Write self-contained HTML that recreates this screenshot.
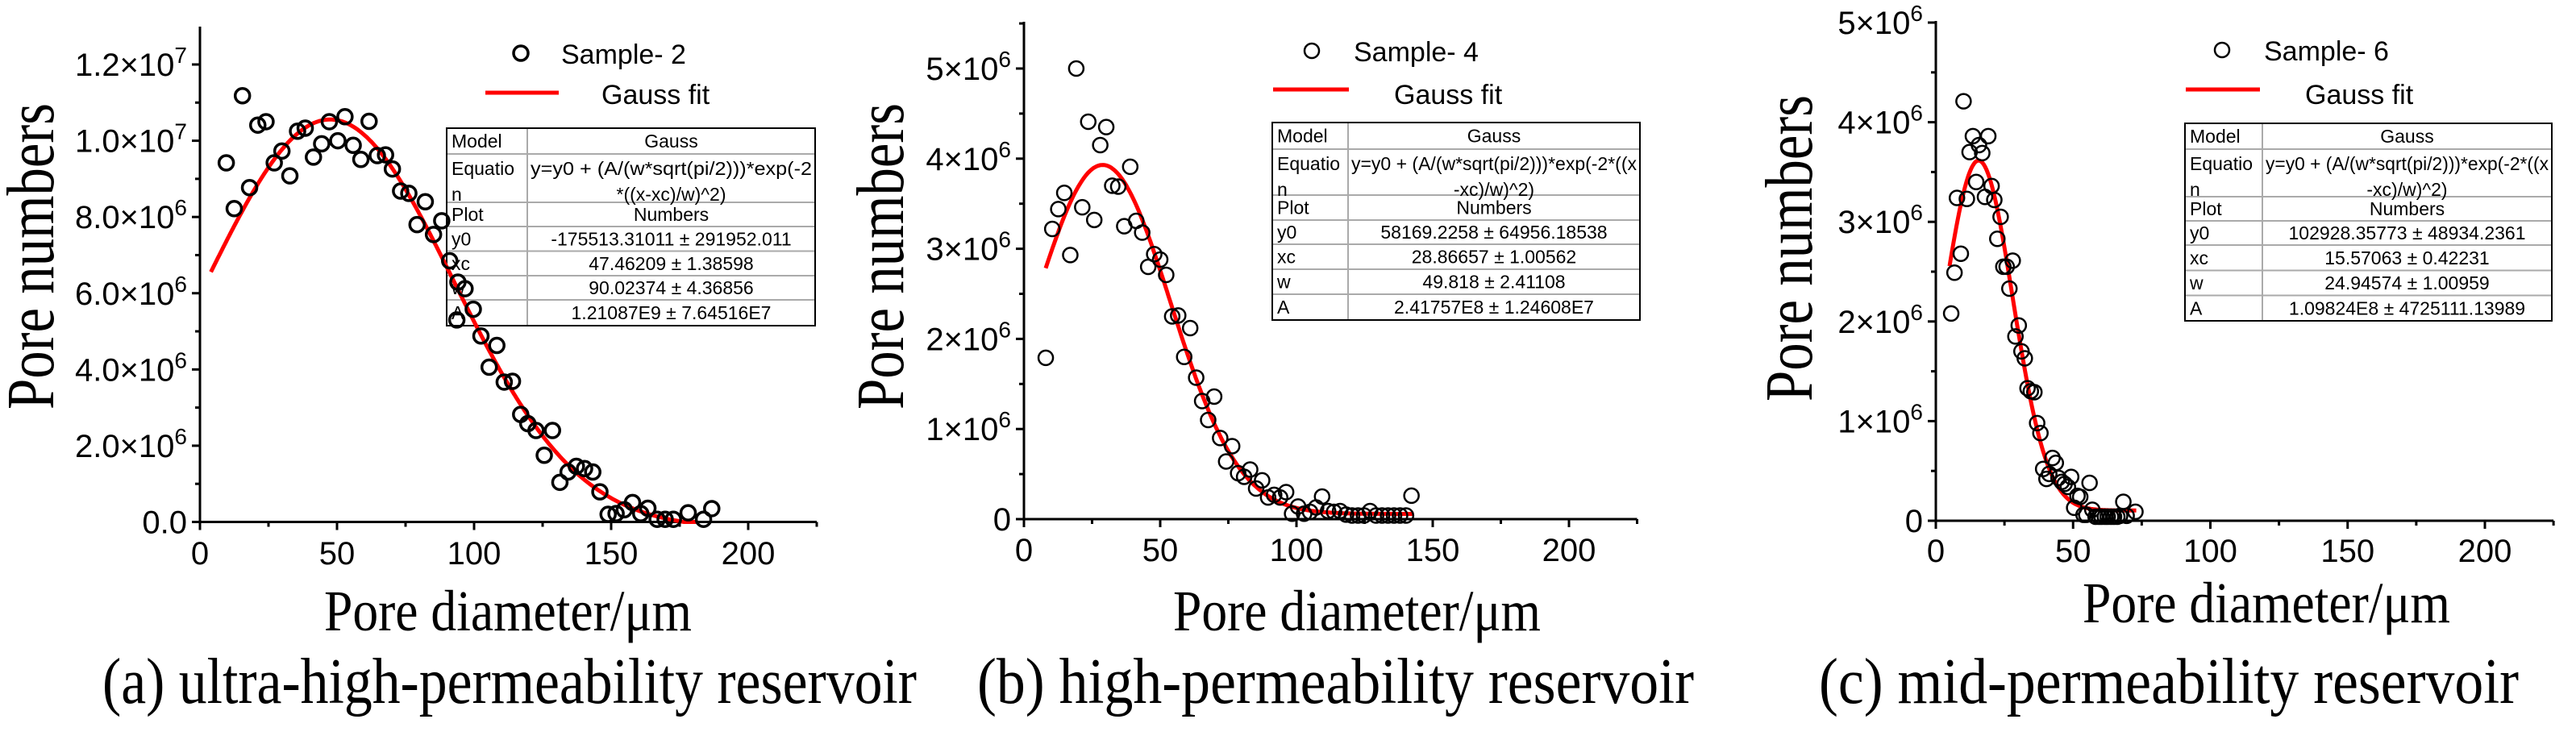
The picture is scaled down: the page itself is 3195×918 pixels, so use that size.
<!DOCTYPE html>
<html><head><meta charset="utf-8"><style>
html,body{margin:0;padding:0;background:#fff;}
svg{display:block;}
</style></head><body>
<svg id="fig" width="3195" height="918" viewBox="0 0 3195 918" xmlns="http://www.w3.org/2000/svg"></svg>
<script>
// ---- Data: panel (a) Sample-2 ----
const aX = [9.6,12.5,15.5,18.1,21.1,24.1,27.1,29.9,32.8,35.6,38.4,41.4,44.4,47.2,50.3,52.9,55.9,58.7,61.7,64.7,67.7,70.2,73.2,76.2,79.2,82.2,85.2,88.2,91.1,94.1,96.7,93.7,99.7,102.5,105.5,108.3,111,114,117,119.6,122.6,125.6,128.6,131.3,134.3,137.3,140.3,143.3,145.9,148.9,151.8,154.8,157.8,160.8,163.4,166.8,169.7,172.7,178.1,183.7,186.7];
const aY = [9.42,8.22,11.18,8.77,10.41,10.5,9.42,9.73,9.08,10.25,10.33,9.57,9.92,10.5,10.0,10.63,9.88,9.51,10.51,9.61,9.63,9.26,8.68,8.62,7.8,8.4,7.54,7.9,6.85,6.29,6.12,5.3,5.58,4.88,4.06,4.63,3.67,3.69,2.82,2.58,2.4,1.75,2.4,1.04,1.31,1.46,1.4,1.31,0.79,0.2,0.22,0.32,0.51,0.22,0.36,0.07,0.07,0.07,0.24,0.07,0.35];
const aFit = [-175513.31011, 47.46209, 90.02374, 1.21087e9]; // y0, xc, w, A
const aTicksY = [0,2,4,6,8,10,12];
const aTickLabels = [["0.0",""],["2.0×10","6"],["4.0×10","6"],["6.0×10","6"],["8.0×10","6"],["1.0×10","7"],["1.2×10","7"]];
// ---- Data: panel (b) Sample-4 ----
const bX = [8,10.4,12.6,14.8,17,19.2,21.4,23.6,25.8,28,30.2,32.4,34.6,36.8,39,41.2,43.4,45.6,47.8,50,52.2,54.4,56.6,58.8,61,63.2,65.4,67.6,69.8,72,74.2,76.4,78.6,80.8,83,85.2,87.4,89.6,91.8,94,96.2,98.4,100.6,102.8,105,107.2,109.4,111.6,113.8,116,118.2,120.4,122.6,124.8,127,129.2,131.4,133.6,135.8,138,140.2,142.2];
const bY = [1.79,3.22,3.44,3.62,2.93,5.0,3.46,4.41,3.32,4.15,4.35,3.7,3.69,3.25,3.91,3.31,3.18,2.8,2.94,2.88,2.71,2.25,2.26,1.8,2.12,1.57,1.31,1.1,1.36,0.9,0.64,0.81,0.51,0.47,0.55,0.34,0.43,0.24,0.27,0.24,0.3,0.06,0.14,0.06,0.08,0.13,0.25,0.09,0.08,0.09,0.05,0.04,0.04,0.04,0.09,0.04,0.04,0.04,0.04,0.04,0.04,0.26];
const bFit = [58169.2258, 28.86657, 49.818, 2.41757e8];
const bTicksY = [0,1,2,3,4,5];
const bTickLabels = [["0",""],["1×10","6"],["2×10","6"],["3×10","6"],["4×10","6"],["5×10","6"]];
// ---- Data: panel (c) Sample-6 ----
const cX = [5.6,6.8,7.7,9.1,10.1,11.3,12.3,13.5,14.7,15.7,16.9,17.9,19.1,20.3,21.3,22.4,23.6,24.6,25.8,26.8,28,29,30.2,31.2,32.4,33.4,34.6,35.9,36.9,38.1,39.1,40.3,41.3,42.5,43.7,44.7,45.9,46.9,48.1,49.3,50.4,51.6,52.6,53.8,54.8,56,57,58.2,59.4,60.4,61.6,62.6,63.8,64.9,66.1,67.1,68.3,69.5,72.7];
const cY = [2.08,2.49,3.24,2.68,4.21,3.23,3.7,3.86,3.4,3.77,3.69,3.25,3.86,3.36,3.22,2.83,3.05,2.55,2.55,2.33,2.61,1.85,1.96,1.7,1.63,1.33,1.3,1.29,0.98,0.88,0.52,0.42,0.47,0.63,0.58,0.43,0.39,0.37,0.34,0.44,0.13,0.25,0.24,0.06,0.06,0.38,0.11,0.04,0.04,0.04,0.04,0.04,0.04,0.04,0.04,0.05,0.19,0.05,0.09];
const cFit = [102928.35773, 15.57063, 24.94574, 1.09824e8];
const cTicksY = [0,1,2,3,4,5];
const cTickLabels = [["0",""],["1×10","6"],["2×10","6"],["3×10","6"],["4×10","6"],["5×10","6"]];
const xTicks = [0,50,100,150,200];
const tableA = [["Model","Gauss"],["Equatio|n","y=y0 + (A/(w*sqrt(pi/2)))*exp(-2|*((x-xc)/w)^2)"],["Plot","Numbers"],["y0","-175513.31011 ± 291952.011"],["xc","47.46209 ± 1.38598"],["w","90.02374 ± 4.36856"],["A","1.21087E9 ± 7.64516E7"]];
const tableB = [["Model","Gauss"],["Equatio|n","y=y0 + (A/(w*sqrt(pi/2)))*exp(-2*((x|-xc)/w)^2)"],["Plot","Numbers"],["y0","58169.2258 ± 64956.18538"],["xc","28.86657 ± 1.00562"],["w","49.818 ± 2.41108"],["A","2.41757E8 ± 1.24608E7"]];
const tableC = [["Model","Gauss"],["Equatio|n","y=y0 + (A/(w*sqrt(pi/2)))*exp(-2*((x|-xc)/w)^2)"],["Plot","Numbers"],["y0","102928.35773 ± 48934.2361"],["xc","15.57063 ± 0.42231"],["w","24.94574 ± 1.00959"],["A","1.09824E8 ± 4725111.13989"]];

const NS = "http://www.w3.org/2000/svg";
const svg = document.getElementById("fig");
function el(tag, attrs, parent){ const e=document.createElementNS(NS,tag); for(const k in attrs) e.setAttribute(k,attrs[k]); (parent||svg).appendChild(e); return e; }

function panel(cfg){
  const g = el("g",{});
  
  
  const sx = v => cfg.x0 + (v/200)*(cfg.x200-cfg.x0);
  const sy = v => cfg.y0 - (v/cfg.ytop)*(cfg.y0-cfg.ytopPx);
  const yax = el("line",{x1:cfg.x0,y1:cfg.y0,x2:cfg.x0,y2:cfg.axTop,stroke:"#000","stroke-width":3},g);
  
  
  const xax = el("line",{x1:cfg.x0,y1:cfg.y0,x2:sx(225),y2:cfg.y0,stroke:"#000","stroke-width":3},g);
  
  
  for(let v=0; v<=225; v+=25){
    const major = v%50===0;
    el("line",{x1:sx(v),y1:cfg.y0,x2:sx(v),y2:cfg.y0+(major?10:6),stroke:"#000","stroke-width":3},g);
  }
  xTicks.forEach(v=>{
    const t = el("text",{x:sx(v),y:cfg.xLabY,"text-anchor":"middle","font-family":"Liberation Sans, sans-serif","font-size":40},g);
    t.textContent = v;
    
    
  });
  const ts = cfg.ticks;
  for(let i=0;i<ts.length;i++){
    el("line",{x1:cfg.x0-10,y1:sy(ts[i]),x2:cfg.x0,y2:sy(ts[i]),stroke:"#000","stroke-width":3},g);
    const mid = ts[i] + (ts[1]-ts[0])/2;
    if(sy(mid) > cfg.axTop) el("line",{x1:cfg.x0-6,y1:sy(mid),x2:cfg.x0,y2:sy(mid),stroke:"#000","stroke-width":3},g);
    const lab = cfg.labels[i];
    const t = el("text",{x:cfg.x0-16,y:sy(ts[i])+14,"text-anchor":"end","font-family":"Liberation Sans, sans-serif","font-size":40},g);
    
    
    const s1 = el("tspan",{},t); s1.textContent = lab[0];
    if(lab[1]){ const s2 = el("tspan",{dy:-16,"font-size":28},t); s2.textContent = lab[1]; }
  }
  const yt = el("text",{x:0,y:0,transform:`translate(${cfg.ytX},${cfg.ytY}) rotate(-90)`,"text-anchor":"middle","font-family":"Liberation Serif, serif","font-size":84,textLength:380,lengthAdjust:"spacingAndGlyphs"},g);
  yt.textContent = "Pore numbers";
  
  
  const xt = el("text",{x:cfg.xtX,y:cfg.xtY,"font-family":"Liberation Serif, serif","font-size":72,textLength:456,lengthAdjust:"spacingAndGlyphs"},g);
  xt.textContent = "Pore diameter/μm";
  
  
  const cap = el("text",{x:cfg.capX1,y:872,"font-family":"Liberation Serif, serif","font-size":80,textLength:cfg.capX2-cfg.capX1,lengthAdjust:"spacingAndGlyphs"},g);
  cap.textContent = cfg.caption;
  
  
  const tb = cfg.tb, tg = el("g",{},g);
  
  
  for(let i=1;i<tb.rows.length-1;i++) el("line",{x1:tb.x1,y1:tb.rows[i],x2:tb.x2,y2:tb.rows[i],stroke:"#aaa","stroke-width":2},tg);
  el("line",{x1:tb.xd,y1:tb.rows[0],x2:tb.xd,y2:tb.rows[tb.rows.length-1],stroke:"#aaa","stroke-width":2},tg);
  el("rect",{x:tb.x1,y:tb.rows[0],width:tb.x2-tb.x1,height:tb.rows[tb.rows.length-1]-tb.rows[0],fill:"none",stroke:"#000","stroke-width":2},tg);
  cfg.table.forEach((r,i)=>{
    const top=tb.rows[i], bot=tb.rows[i+1];
    const l = r[0].split("|"), rt = r[1].split("|");
    l.forEach((s,j)=>{ const t=el("text",{x:tb.x1+6,y:(l.length>1? top+26+j*32 : (top+bot)/2+8),"font-family":"Liberation Sans, sans-serif","font-size":23},tg); t.textContent=s; });
    rt.forEach((s,j)=>{
      const a = {x:(tb.xd+tb.x2)/2,y:(rt.length>1? top+26+j*32 : (top+bot)/2+8),"text-anchor":"middle","font-family":"Liberation Sans, sans-serif","font-size":23};
      if(j===0 && rt.length>1){ a.textLength = tb.x2-tb.xd-8; a.lengthAdjust="spacingAndGlyphs"; }
      const t=el("text",a,tg); t.textContent=s; });
  });
  const [y0,xc,w,A] = cfg.fit;
  let d="";
  for(let x=cfg.fitFrom; x<=cfg.fitTo+0.001; x+=0.5){
    let y = y0 + (A/(w*Math.sqrt(Math.PI/2)))*Math.exp(-2*((x-xc)/w)**2);
    y = Math.max(0,y)/1e6;
    d += (d?"L":"M")+sx(x).toFixed(1)+","+sy(y).toFixed(1);
  }
  const fc = el("path",{d:d,fill:"none",stroke:"#f00","stroke-width":5},g);
  
  
  cfg.xs.forEach((x,i)=>{
    const c = el("circle",{cx:sx(x),cy:sy(cfg.ys[i]),r:cfg.r,fill:"none",stroke:"#000","stroke-width":cfg.sw},g);
    
    
  });
  const lg = el("g",{},g);
  
  
  el("circle",{cx:cfg.lg.cx,cy:cfg.lg.cy,r:cfg.r,fill:"none",stroke:"#000","stroke-width":cfg.sw},lg);
  const l1 = el("text",{x:cfg.lg.tx,y:cfg.lg.cy+13,"font-family":"Liberation Sans, sans-serif","font-size":34},lg); l1.textContent=cfg.sample;
  el("line",{x1:cfg.lg.lx1,y1:cfg.lg.ly,x2:cfg.lg.lx2,y2:cfg.lg.ly,stroke:"#f00","stroke-width":5},lg);
  const l2 = el("text",{x:cfg.lg.gx,y:129,"font-family":"Liberation Sans, sans-serif","font-size":34},lg); l2.textContent="Gauss fit";
}

panel({id:"a",x0:248,x200:928,y0:647.5,ytop:12,ytopPx:80,axTop:33,ticks:aTicksY,labels:aTickLabels,xLabY:700,
  ytX:66,ytY:318,xtX:402,xtY:782,caption:"(a) ultra-high-permeability  reservoir",capX1:127,capX2:1137,
  tb:{x1:554,x2:1011,xd:654,rows:[159,191,251,281,311.5,342,372,404]},table:tableA,
  fit:aFit,fitFrom:4,fitTo:181,xs:aX,ys:aY,r:9,sw:3.5,sample:"Sample- 2",
  lg:{cx:646,cy:66,tx:696,lx1:602,lx2:693,ly:115,gx:746}});
panel({id:"b",x0:1270,x200:1946,y0:644,ytop:5,ytopPx:85,axTop:27,ticks:bTicksY,labels:bTickLabels,xLabY:696,
  ytX:1120,ytY:318,xtX:1455,xtY:782,caption:"(b) high-permeability  reservoir",capX1:1212,capX2:2101,
  tb:{x1:1578,x2:2034,xd:1672,rows:[152,185,242,273,303,334,365,397]},table:tableB,
  fit:bFit,fitFrom:8,fitTo:143,xs:bX,ys:bY,r:9,sw:2.5,sample:"Sample- 4",
  lg:{cx:1627,cy:63,tx:1679,lx1:1579,lx2:1673,ly:111,gx:1729}});
panel({id:"c",x0:2401,x200:3082,y0:646,ytop:5,ytopPx:28,axTop:26,ticks:cTicksY,labels:cTickLabels,xLabY:697,
  ytX:2247,ytY:308,xtX:2583,xtY:772,caption:"(c) mid-permeability  reservoir",capX1:2256,capX2:3124,
  tb:{x1:2710,x2:3165,xd:2806,rows:[153,185,244,274,304,335.5,366.5,398]},table:tableC,
  fit:cFit,fitFrom:5,fitTo:73,xs:cX,ys:cY,r:9,sw:2.5,sample:"Sample- 6",
  lg:{cx:2756,cy:62,tx:2808,lx1:2711,lx2:2803,ly:111,gx:2859}});
</script>
</body></html>
